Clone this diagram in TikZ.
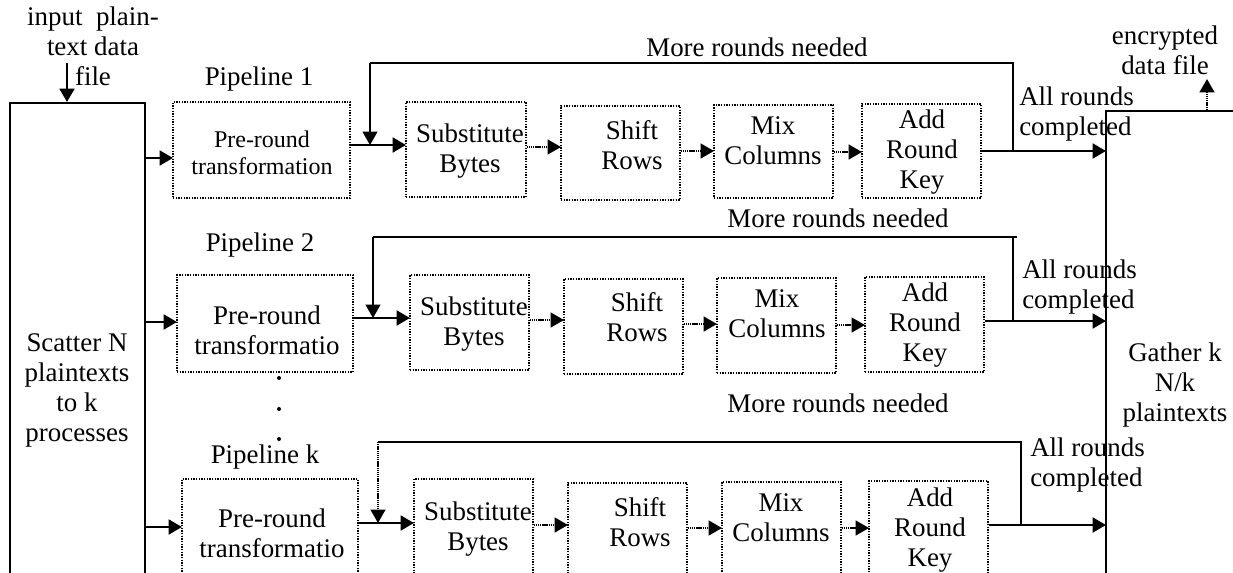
\documentclass[tikz,border=0pt]{standalone}
\usepackage{fontspec}
\setmainfont{Liberation Serif}
\usetikzlibrary{arrows.meta}

% Draw a stage box from its corners (x1,y1)-(x2,y2), given in pixel units
\newcommand\stagebox[5]{%
  \node[stage, minimum width={(#4-#2)*0.75pt}, minimum height={(#5-#3)*0.75pt}]
    (#1) at ({(#2+#4)/2},{(#3+#5)/2}) {};}

\begin{document}
\begin{tikzpicture}[x=0.75pt, y=-0.75pt,
  every node/.style={font=\fontsize{20.2}{22.5}\selectfont},
  txt/.style={align=center, inner sep=0pt},
  stage/.style={draw, densely dotted, line width=1pt, inner sep=0pt},
  solidbox/.style={draw, line width=1.5pt, inner sep=0pt},
  tip/.style={-{Triangle[length=10pt, width=11pt]}},
  main/.style={tip, line width=2.1pt},
  link/.style={tip, line width=1.8pt, dash pattern=on 1pt off 0.6pt},
  fb/.style={line width=1.4pt},
  fbtip/.style={fb, -{Triangle[length=10pt, width=11pt]}}]

\useasboundingbox (0,0) rectangle (1233,572);
\clip (0,0) rectangle (1233,572);

% scatter and gather processes
\node[solidbox, minimum width={135*0.75pt}, minimum height={480*0.75pt}]
  (scatter) at (77.5,343) {};
\node[txt] (scattertxt) at (77,390) {Scatter N\\plaintexts\\to k\\processes};
\node[solidbox, minimum width={160*0.75pt}, minimum height={480*0.75pt}]
  (gather) at (1186,351) {};
\node[txt] (gathertxt) at (1175,385) {Gather k\\N/k\\plaintexts};

% input and output files
\node[txt] (input) at (93,46) {input\ \ plain-\\text data\\file};
\coordinate (infrom) at (67,63);
\draw[main] (infrom) -- (infrom |- scatter.north);
\node[txt] (output) at (1165,50) {encrypted\\data file};
\coordinate (outto) at (1207,79);
\draw[link] (outto |- gather.north) -- (outto);

% ---------- pipeline 1 ----------
\node[txt] (pl1) at (259,79) {Pipeline 1};
\stagebox{pre1}{173}{102}{350}{198}
\node[txt, font=\fontsize{18}{20.5}\selectfont] (pre1t) at (262,153) {Pre-round\\transformation};
\stagebox{sub1}{406}{102}{526}{197}
\node[txt] (sub1t) at (470,151) {Substitute\\Bytes};
\stagebox{shf1}{561}{106}{680}{200}
\node[txt] (shf1t) at (632,145.5) {Shift\\Rows};
\stagebox{mix1}{714}{105}{833}{198}
\node[txt] (mix1t) at (773,141) {Mix\\Columns};
\stagebox{add1}{862}{104}{981}{198}
\node[txt] (add1t) at (922,152) {Add\\Round\\Key};

\coordinate (p1in) at (173,158);
\draw[main] (scatter.east |- p1in) -- (p1in);
\coordinate (s1in) at (406,145);
\draw[main] (pre1.east |- s1in) -- (s1in);
\coordinate (h1in) at (561,147);
\draw[link] (sub1.east |- h1in) -- (h1in);
\coordinate (m1in) at (714,151);
\draw[link] (shf1.east |- m1in) -- (m1in);
\coordinate (a1in) at (862,152);
\draw[link] (mix1.east |- a1in) -- (a1in);
\coordinate (g1in) at (1106,151);
\draw[main] (add1.east |- g1in) -- (g1in);
\coordinate (fb1) at (1013,151);
\coordinate (fb1top) at (370,63);
\draw[fb] (fb1) -- (fb1 |- fb1top) -- (fb1top);
\draw[fbtip] (fb1top) -- (fb1top |- s1in);
\node[txt] (more1) at (757,47) {More rounds needed};
\node[txt, anchor=west, align=left] (done1) at (1019,114) {All rounds\\completed};

% ---------- pipeline 2 ----------
\node[txt] (pl2) at (260,245) {Pipeline 2};
\stagebox{pre2}{177}{275}{353}{372}
\node[txt] (pre2t) at (267,330) {Pre-round\\transformatio};
\stagebox{sub2}{410}{275}{529}{370}
\node[txt] (sub2t) at (474,324) {Substitute\\Bytes};
\stagebox{shf2}{564}{279}{683}{374}
\node[txt] (shf2t) at (637,317.5) {Shift\\Rows};
\stagebox{mix2}{717}{278}{836}{373}
\node[txt] (mix2t) at (777,314) {Mix\\Columns};
\stagebox{add2}{865}{277}{984}{372}
\node[txt] (add2t) at (925,325.5) {Add\\Round\\Key};

\coordinate (p2in) at (177,322);
\draw[main] (scatter.east |- p2in) -- (p2in);
\coordinate (s2in) at (410,318);
\draw[main] (pre2.east |- s2in) -- (s2in);
\coordinate (h2in) at (564,320);
\draw[link] (sub2.east |- h2in) -- (h2in);
\coordinate (m2in) at (717,324);
\draw[link] (shf2.east |- m2in) -- (m2in);
\coordinate (a2in) at (865,325);
\draw[link] (mix2.east |- a2in) -- (a2in);
\coordinate (g2in) at (1106,321);
\draw[main] (add2.east |- g2in) -- (g2in);
\coordinate (fb2) at (1013,321);
\coordinate (fb2top) at (373,237);
\draw[fb] (fb2) -- (fb2 |- fb2top) -- (fb2top);
\draw[fb] (fb2 |- fb2top) -- ++(4,0);
\draw[fbtip] (fb2top) -- (fb2top |- s2in);
\node[txt] (more2) at (838,218) {More rounds needed};
\node[txt, anchor=west, align=left] (done2) at (1022,287) {All rounds\\completed};

% continuation dots
\fill (279,378) circle (1.5pt) (279,409) circle (1.5pt) (279,439) circle (1.5pt);

% ---------- pipeline k ----------
\node[txt] (plk) at (265,457) {Pipeline k};
\stagebox{prek}{182}{479}{358}{585}
\node[txt] (prekt) at (272,533) {Pre-round\\transformatio};
\stagebox{subk}{414}{479}{533}{585}
\node[txt] (subkt) at (478,529) {Substitute\\Bytes};
\stagebox{shfk}{568}{483}{687}{585}
\node[txt] (shfkt) at (640,522.5) {Shift\\Rows};
\stagebox{mixk}{722}{482}{841}{585}
\node[txt] (mixkt) at (781,517.5) {Mix\\Columns};
\stagebox{addk}{869}{481}{988}{585}
\node[txt] (addkt) at (930,530) {Add\\Round\\Key};

\coordinate (pkin) at (182,527);
\draw[main] (scatter.east |- pkin) -- (pkin);
\coordinate (skin) at (414,523);
\draw[main] (prek.east |- skin) -- (skin);
\coordinate (hkin) at (568,525);
\draw[link] (subk.east |- hkin) -- (hkin);
\coordinate (mkin) at (722,528);
\draw[link] (shfk.east |- mkin) -- (mkin);
\coordinate (akin) at (869,528);
\draw[link] (mixk.east |- akin) -- (akin);
\coordinate (gkin) at (1106,525);
\draw[main] (addk.east |- gkin) -- (gkin);
\coordinate (fbk) at (1021,525);
\coordinate (fbktop) at (378,442);
\draw[fb] (fbk) -- (fbk |- fbktop) -- (fbktop);
\draw[fbtip, dash pattern=on 1pt off 0.6pt] (fbktop) -- (fbktop |- skin);
\node[txt] (morek) at (838,403) {More rounds needed};
\node[txt, anchor=west, align=left] (donek) at (1030,465) {All rounds\\completed};

\end{tikzpicture}
\end{document}
